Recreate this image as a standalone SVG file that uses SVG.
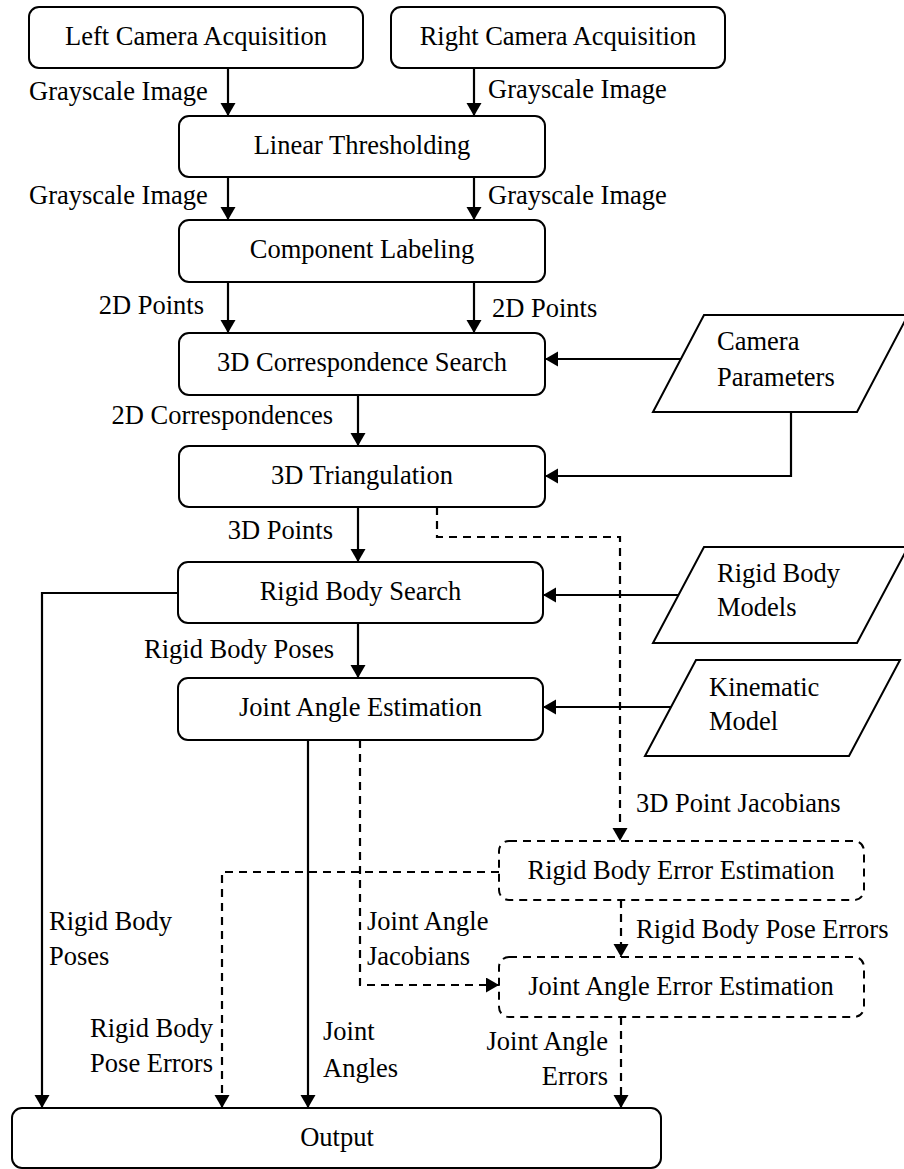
<svg xmlns="http://www.w3.org/2000/svg" width="904" height="1169" viewBox="0 0 904 1169" font-family="'Liberation Serif', 'DejaVu Serif', serif">
<style>
text{font-family:'Liberation Serif','DejaVu Serif',serif;font-size:26.5px;fill:#000}
.c{text-anchor:middle}
.r{text-anchor:end}
.box{fill:#fff;stroke:#000;stroke-width:2}
.dbox{fill:#fff;stroke:#000;stroke-width:2;stroke-dasharray:8,6}
.ln{fill:none;stroke:#000;stroke-width:2.2}
.dl{fill:none;stroke:#000;stroke-width:2.2;stroke-dasharray:8,6}
</style>
<defs>
<marker id="ah" markerUnits="userSpaceOnUse" markerWidth="14" markerHeight="16" refX="13" refY="7.5" orient="auto">
<path d="M0,0 L13,7.5 L0,15 z" fill="#000"/>
</marker>
</defs>
<g id="connectors">
<line class="ln" x1="228" y1="68" x2="228" y2="116" marker-end="url(#ah)"/>
<line class="ln" x1="474" y1="68" x2="474" y2="116" marker-end="url(#ah)"/>
<line class="ln" x1="228" y1="177" x2="228" y2="220" marker-end="url(#ah)"/>
<line class="ln" x1="474" y1="177" x2="474" y2="220" marker-end="url(#ah)"/>
<line class="ln" x1="228" y1="282" x2="228" y2="333" marker-end="url(#ah)"/>
<line class="ln" x1="474" y1="282" x2="474" y2="333" marker-end="url(#ah)"/>
<line class="ln" x1="358" y1="395" x2="358" y2="446" marker-end="url(#ah)"/>
<line class="ln" x1="358" y1="507" x2="358" y2="562" marker-end="url(#ah)"/>
<line class="ln" x1="358" y1="623" x2="358" y2="678" marker-end="url(#ah)"/>
<line class="ln" x1="681" y1="359" x2="545" y2="359" marker-end="url(#ah)"/>
<polyline class="ln" points="791,412 791,476 545,476" marker-end="url(#ah)"/>
<line class="ln" x1="678" y1="595" x2="543" y2="595" marker-end="url(#ah)"/>
<line class="ln" x1="671" y1="707" x2="543" y2="707" marker-end="url(#ah)"/>
<polyline class="dl" points="437,507 437,537 620,537 620,841" marker-end="url(#ah)"/>
<polyline class="ln" points="178,593 42,593 42,1108" marker-end="url(#ah)"/>
<line class="ln" x1="308" y1="740" x2="308" y2="1108" marker-end="url(#ah)"/>
<polyline class="dl" points="360,740 360,985 499,985" marker-end="url(#ah)"/>
<polyline class="dl" points="499,872 222,872 222,1108" marker-end="url(#ah)"/>
<line class="dl" x1="621" y1="900" x2="621" y2="957" marker-end="url(#ah)"/>
<line class="dl" x1="621" y1="1017" x2="621" y2="1108" marker-end="url(#ah)"/>
</g>
<g id="labels">
<text x="29" y="100">Grayscale Image</text>
<text x="488" y="98">Grayscale Image</text>
<text x="29" y="204">Grayscale Image</text>
<text x="488" y="204">Grayscale Image</text>
<text class="r" x="204" y="314">2D Points</text>
<text x="492" y="317">2D Points</text>
<text class="r" x="333" y="424">2D Correspondences</text>
<text class="r" x="333" y="539">3D Points</text>
<text class="r" x="334" y="658">Rigid Body Poses</text>
<text x="636" y="812">3D Point Jacobians</text>
<text x="636" y="938">Rigid Body Pose Errors</text>
<text x="367" y="930">Joint Angle</text>
<text x="367" y="965">Jacobians</text>
<text x="49" y="930">Rigid Body</text>
<text x="49" y="965">Poses</text>
<text class="r" x="213" y="1037">Rigid Body</text>
<text class="r" x="213" y="1072">Pose Errors</text>
<text x="323" y="1040">Joint</text>
<text x="323" y="1077">Angles</text>
<text class="r" x="608" y="1050">Joint Angle</text>
<text class="r" x="608" y="1085">Errors</text>
</g>
<g id="left-camera">
<rect class="box" x="29" y="7" width="334" height="61" rx="10"/>
<text class="c" x="196" y="45">Left Camera Acquisition</text>
</g>
<g id="right-camera">
<rect class="box" x="391" y="7" width="334" height="61" rx="10"/>
<text class="c" x="558" y="45">Right Camera Acquisition</text>
</g>
<g id="linear-thresholding">
<rect class="box" x="179" y="116" width="366" height="61" rx="10"/>
<text class="c" x="362" y="154">Linear Thresholding</text>
</g>
<g id="component-labeling">
<rect class="box" x="179" y="220" width="366" height="62" rx="10"/>
<text class="c" x="362" y="258">Component Labeling</text>
</g>
<g id="correspondence-search">
<rect class="box" x="179" y="333" width="366" height="62" rx="10"/>
<text class="c" x="362" y="371">3D Correspondence Search</text>
</g>
<g id="triangulation">
<rect class="box" x="179" y="446" width="366" height="61" rx="10"/>
<text class="c" x="362" y="484">3D Triangulation</text>
</g>
<g id="rigid-body-search">
<rect class="box" x="178" y="562" width="365" height="61" rx="10"/>
<text class="c" x="360.5" y="600">Rigid Body Search</text>
</g>
<g id="joint-angle-estimation">
<rect class="box" x="178" y="678" width="365" height="62" rx="10"/>
<text class="c" x="360.5" y="716">Joint Angle Estimation</text>
</g>
<g id="camera-parameters">
<polygon class="box" points="704,315 908,315 857,412 653,412"/>
<text x="717" y="350">Camera</text>
<text x="717" y="386">Parameters</text>
</g>
<g id="rigid-body-models">
<polygon class="box" points="704,547 908,547 857,643 653,643"/>
<text x="717" y="582">Rigid Body</text>
<text x="717" y="616">Models</text>
</g>
<g id="kinematic-model">
<polygon class="box" points="696,660 900,660 849,756 645,756"/>
<text x="709" y="696">Kinematic</text>
<text x="709" y="730">Model</text>
</g>
<g id="rigid-body-error">
<rect class="dbox" x="499" y="841" width="365" height="59" rx="10"/>
<text class="c" x="681" y="879">Rigid Body Error Estimation</text>
</g>
<g id="joint-angle-error">
<rect class="dbox" x="499" y="957" width="365" height="60" rx="10"/>
<text class="c" x="681" y="995">Joint Angle Error Estimation</text>
</g>
<g id="output">
<rect class="box" x="12" y="1108" width="649" height="60" rx="10"/>
<text class="c" x="337" y="1146">Output</text>
</g>
</svg>
